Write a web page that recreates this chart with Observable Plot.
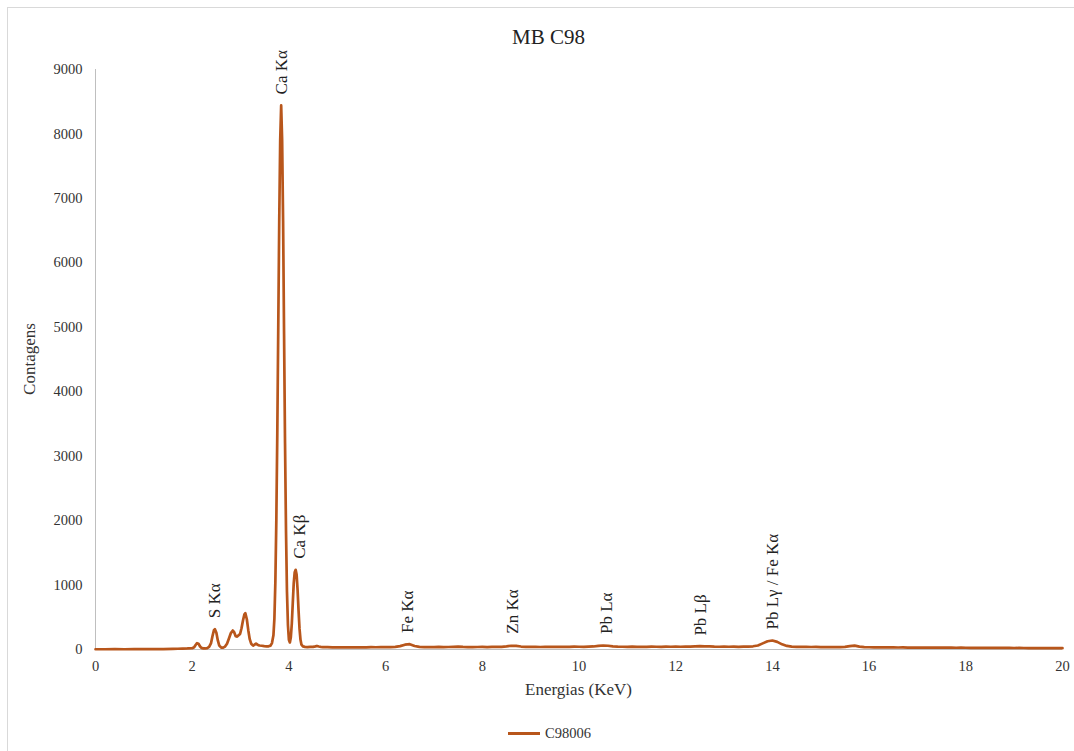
<!DOCTYPE html>
<html>
<head>
<meta charset="utf-8">
<script src="https://cdn.jsdelivr.net/npm/d3@7"></script>
<script src="https://cdn.jsdelivr.net/npm/@observablehq/plot@0.6"></script>
<style>
  body { margin: 0; background: #fff; }
  #wrap { position: relative; width: 1074px; height: 751px; overflow: hidden; background: #fff;
          font-family: "Liberation Serif", "Times New Roman", serif; color: #333; }
  #wrap * { font-family: "Liberation Serif", "Times New Roman", serif !important; }
  #frame { position: absolute; left: 7px; top: 7px; width: 1083px; height: 760px;
           border: 1px solid #d9d9d9; box-sizing: border-box; }
  #title { position: absolute; left: 7px; width: 1083px; top: 24px; text-align: center;
           font-size: 21px; color: #222; line-height: 26px; }
  #chart { position: absolute; left: 0; top: 0; }
  #xlab { position: absolute; left: 95px; width: 967px; top: 680px; text-align: center;
          font-size: 17px; line-height: 20px; color: #333; }
  #ylab { position: absolute; left: 30px; top: 359px; width: 200px; margin-left: -100px; text-align: center;
          font-size: 17px; line-height: 20px; margin-top: -10px; transform: rotate(-90deg); color: #333; }
  #legend { position: absolute; top: 724px; left: 508px; height: 18px; display: flex; align-items: center;
            font-size: 14.5px; color: #333; }
  #legend .sw { width: 32px; height: 3px; margin-right: 5px; }
</style>
</head>
<body>
<div id="wrap">
  <div id="frame"></div>
  <div id="chart"></div>
  <div id="title"></div>
  <div id="xlab"></div>
  <div id="ylab"></div>
  <div id="legend"><span class="sw"></span><span class="lab"></span></div>
</div>
<script>
// ---- data ----
const chartTitle = "MB C98";
const seriesName = "C98006";
const xLabel = "Energias (KeV)";
const yLabel = "Contagens";
const xTicks = [0, 2, 4, 6, 8, 10, 12, 14, 16, 18, 20];
const yTicks = [0, 1000, 2000, 3000, 4000, 5000, 6000, 7000, 8000, 9000];

const energies = [
  0.0, 0.2, 0.4, 0.6, 0.8, 1.0, 1.2, 1.4, 1.6, 1.7, 1.8, 1.9, 2.0, 2.04, 2.07, 2.10, 2.13, 2.16, 2.19,
  2.23, 2.27, 2.31, 2.35, 2.39, 2.42, 2.45, 2.47, 2.50, 2.53, 2.56, 2.60, 2.64, 2.68, 2.72, 2.76, 2.80,
  2.84, 2.87, 2.90, 2.93, 2.96, 2.99, 3.02, 3.05, 3.08, 3.10, 3.13, 3.16, 3.19, 3.22, 3.26, 3.29, 3.32,
  3.35, 3.39, 3.44, 3.49, 3.54, 3.58, 3.62, 3.65, 3.68, 3.70, 3.72, 3.74, 3.76, 3.78, 3.80, 3.82, 3.84,
  3.86, 3.88, 3.90, 3.92, 3.94, 3.96, 3.98, 4.00, 4.02, 4.04, 4.06, 4.08, 4.10, 4.12, 4.14, 4.16, 4.18,
  4.20, 4.22, 4.24, 4.26, 4.29, 4.33, 4.38, 4.44, 4.50, 4.55, 4.58, 4.62, 4.66,
  4.7, 4.8, 4.9, 5.0, 5.1, 5.2, 5.3, 5.4, 5.5, 5.6, 5.7, 5.8, 5.9, 6.0, 6.1, 6.2, 6.3, 6.4, 6.5, 6.6,
  6.7, 6.8, 6.9, 7.0, 7.1, 7.2, 7.3, 7.4, 7.5, 7.6, 7.7, 7.8, 7.9, 8.0, 8.1, 8.2, 8.3, 8.4, 8.5, 8.6,
  8.7, 8.8, 8.9, 9.0, 9.1, 9.2, 9.3, 9.4, 9.5, 9.6, 9.7, 9.8, 9.9, 10.0, 10.1, 10.2, 10.3, 10.4, 10.5,
  10.6, 10.7, 10.8, 10.9, 11.0, 11.1, 11.2, 11.3, 11.4, 11.5, 11.6, 11.7, 11.8, 11.9, 12.0, 12.1, 12.2,
  12.3, 12.4, 12.5, 12.6, 12.7, 12.8, 12.9, 13.0, 13.1, 13.2, 13.3, 13.4, 13.5, 13.6, 13.7, 13.8, 13.9,
  14.0, 14.1, 14.2, 14.3, 14.4, 14.5, 14.6, 14.7, 14.8, 14.9, 15.0, 15.1, 15.2, 15.3, 15.4, 15.5, 15.6,
  15.7, 15.8, 15.9, 16.0, 16.1, 16.2, 16.3, 16.4, 16.5, 16.6, 16.7, 16.8, 16.9, 17.0, 17.1, 17.2, 17.3,
  17.4, 17.5, 17.6, 17.7, 17.8, 17.9, 18.0, 18.1, 18.2, 18.3, 18.4, 18.5, 18.6, 18.7, 18.8, 18.9, 19.0,
  19.1, 19.2, 19.3, 19.4, 19.5, 19.6, 19.7, 19.8, 19.9, 20.0
];
const counts = [
  4, 4, 5, 4, 5, 5, 5, 7, 10, 12, 14, 16, 20, 35, 70, 98, 90, 50, 25,
  18, 16, 20, 40, 100, 210, 300, 315, 260, 140, 60, 30, 28, 45, 90, 170, 255,
  295, 265, 205, 200, 220, 240, 330, 450, 545, 563, 470, 300, 160, 90, 60, 75, 92,
  75, 62, 58, 52, 48, 50, 60, 100, 220, 480, 1050, 2000, 3350, 5000, 6650, 7900, 8442,
  7900, 6650, 4900, 3200, 1850, 900, 380, 150, 110, 190, 400, 720, 1030, 1200, 1237, 1160, 920,
  600, 320, 150, 75, 48, 40, 38, 40, 42, 48, 55, 46, 40,
  38, 36, 34, 33, 35, 32, 34, 33, 35, 34, 36, 35, 37, 36, 38, 40, 52, 75, 82, 55,
  40, 37, 36, 38, 40, 38, 39, 41, 44, 40, 38, 37, 39, 40, 38, 41, 40, 42, 48, 58,
  56, 46, 42, 40, 41, 39, 42, 40, 41, 43, 41, 42, 44, 43, 42, 44, 47, 55, 62,
  58, 48, 44, 43, 42, 44, 41, 43, 42, 44, 43, 42, 44, 43, 45, 43, 44,
  46, 49, 52, 50, 47, 44, 43, 45, 43, 44, 42, 45, 46, 50, 62, 95, 128,
  140, 118, 80, 55, 45, 42, 40, 41, 39, 40, 38, 39, 37, 38, 36, 40, 52,
  60, 45, 36, 35, 34, 33, 34, 32, 33, 31, 32, 30, 31, 30, 29, 31, 29,
  30, 28, 29, 28, 27, 28, 27, 26, 27, 26, 25, 26, 25, 24, 25, 24, 23,
  24, 23, 22, 23, 22, 21, 22, 21, 20, 20
];

const peakLabels   = ["S Kα", "Ca Kα", "Ca Kβ", "Fe Kα", "Zn Kα", "Pb Lα", "Pb Lβ", "Pb Lγ / Fe Kα"];
const peakEnergies = [2.46, 3.85, 4.22, 6.45, 8.62, 10.57, 12.51, 14.0];
const peakCounts   = [315, 8442, 1237, 85, 75, 70, 45, 140];

// ---- build ----
const lineColor = "#b8561b";
const serif = '"Liberation Serif", "Times New Roman", serif';
const spectrum = energies.map((e, i) => ({energy: e, count: counts[i]}));
const labels = peakLabels.map((t, i) => ({text: t, energy: peakEnergies[i], count: peakCounts[i]}));

const chart = Plot.plot({
  width: 1074,
  height: 710,
  marginTop: 69,
  marginLeft: 95,
  marginRight: 12,
  marginBottom: 61,
  style: {fontFamily: serif, fontSize: "14.5px", color: "#333", background: "transparent"},
  x: {domain: [0, 20], ticks: xTicks, tickSize: 0, tickPadding: 11, label: null},
  y: {domain: [0, 9000], ticks: yTicks, tickSize: 0, tickPadding: 13, tickFormat: d => String(d), label: null},
  marks: [
    Plot.ruleX([0], {stroke: "#bfbfbf", strokeWidth: 1}),
    Plot.ruleY([0], {stroke: "#bfbfbf", strokeWidth: 1}),
    Plot.line(spectrum, {x: "energy", y: "count", stroke: lineColor, strokeWidth: 2.7, strokeLinejoin: "round"}),
    Plot.text(labels, {x: "energy", y: "count", text: "text", rotate: -90, textAnchor: "start", dy: -11, fontSize: 17, fill: "#222"})
  ]
});
chart.setAttribute("font-family", serif);
document.getElementById("chart").appendChild(chart);
document.getElementById("title").textContent = chartTitle;
document.getElementById("xlab").textContent = xLabel;
document.getElementById("ylab").textContent = yLabel;
document.querySelector("#legend .sw").style.background = lineColor;
document.querySelector("#legend .lab").textContent = seriesName;
</script>
</body>
</html>
